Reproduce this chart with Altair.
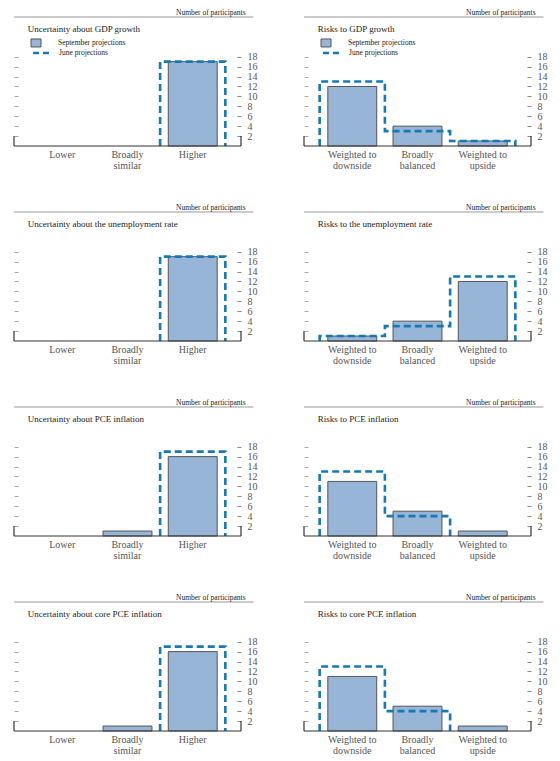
import altair as alt
import pandas as pd

# ---------------- data ----------------
unc_cats = ["Lower", "Broadly\nsimilar", "Higher"]
risk_cats = ["Weighted to\ndownside", "Broadly\nbalanced", "Weighted to\nupside"]

titles = [
    "Uncertainty about GDP growth",
    "Risks to GDP growth",
    "Uncertainty about the unemployment rate",
    "Risks to the unemployment rate",
    "Uncertainty about PCE inflation",
    "Risks to PCE inflation",
    "Uncertainty about core PCE inflation",
    "Risks to core PCE inflation",
]

gdp_unc_sep = [0, 0, 17]
gdp_unc_jun = [0, 0, 17]
gdp_risk_sep = [12, 4, 1]
gdp_risk_jun = [13, 3, 1]
unemp_unc_sep = [0, 0, 17]
unemp_unc_jun = [0, 0, 17]
unemp_risk_sep = [1, 4, 12]
unemp_risk_jun = [1, 3, 13]
pce_unc_sep = [0, 1, 16]
pce_unc_jun = [0, 0, 17]
pce_risk_sep = [11, 5, 1]
pce_risk_jun = [13, 4, 0]
core_unc_sep = [0, 1, 16]
core_unc_jun = [0, 0, 17]
core_risk_sep = [11, 5, 1]
core_risk_jun = [13, 4, 0]

y_ticks = [2, 4, 6, 8, 10, 12, 14, 16, 18]
legend_labels = ["September projections", "June projections"]
y_unit_label = "Number of participants"

# ---------------- style ----------------
SERIF = "Liberation Serif"
BAR_FILL = "#97b5d6"
BAR_STROKE = "#555555"
JUNE_COLOR = "#1479b5"
XMIN, XMAX = -0.24, 3.24
YMAX = 26
W, H = 227, 129

xs = alt.Scale(domain=[XMIN, XMAX], nice=False, zero=False)
ys = alt.Scale(domain=[0, YMAX], nice=False, zero=False)


def step_segments(vals):
    path = [(0, 0)]
    for i, v in enumerate(vals):
        path.append((i, v))
        path.append((i + 1, v))
    path.append((len(vals), 0))
    rows = []
    seg = 0
    order = 0
    prev_kept = False
    for (x0, y0), (x1, y1) in zip(path[:-1], path[1:]):
        skip = (y0 == 0 and y1 == 0) or (x0 == x1 and y0 == y1)
        if skip:
            prev_kept = False
            continue
        if not prev_kept:
            seg += 1
            rows.append({"x": x0, "y": y0, "seg": seg, "o": order})
            order += 1
        rows.append({"x": x1, "y": y1, "seg": seg, "o": order})
        order += 1
        prev_kept = True
    return pd.DataFrame(rows)


def panel(title, cats, sep, jun, legend):
    bars_df = pd.DataFrame({"i": list(range(len(sep))), "v": sep})
    bars = (
        alt.Chart(bars_df)
        .transform_filter("datum.v > 0")
        .transform_calculate(x0="datum.i + 0.125", x1="datum.i + 0.875")
        .mark_rect(fill=BAR_FILL, stroke=BAR_STROKE, strokeWidth=1)
        .encode(
            x=alt.X("x0:Q", scale=xs, axis=None),
            x2="x1:Q",
            y=alt.Y(
                "v:Q",
                scale=ys,
                axis=alt.Axis(
                    orient="left", values=y_ticks, labels=False, domain=False,
                    grid=False, tickSize=4, offset=-4, tickColor="#aaaaaa",
                    title=None, minExtent=0,
                ),
            ),
            y2=alt.datum(0),
        )
    )

    line = (
        alt.Chart(step_segments(jun))
        .mark_line(color=JUNE_COLOR, strokeWidth=2.6, strokeDash=[7, 4])
        .encode(
            x=alt.X("x:Q", scale=xs, axis=None),
            y=alt.Y(
                "y:Q",
                scale=ys,
                axis=alt.Axis(
                    orient="right", values=y_ticks, domain=False, grid=False,
                    tickSize=4, offset=-4, tickColor="#888888",
                    labelFont=SERIF, labelFontSize=10, labelColor="#555555",
                    labelPadding=6, labelOverlap=False, labelBound=False,
                    labelFlush=False, title=None, minExtent=0,
                ),
            ),
            detail="seg:N",
            order="o:Q",
        )
    )

    frame_df = pd.DataFrame(
        {"x": [XMIN, XMIN, XMAX], "x2": [XMAX, XMIN, XMAX],
         "y": [0, 0, 0], "y2": [0, 2, 2]}
    )
    frame = (
        alt.Chart(frame_df)
        .mark_rule(color="#333333", strokeWidth=1.2)
        .encode(
            x=alt.X("x:Q", scale=xs, axis=None), x2="x2:Q",
            y=alt.Y("y:Q", scale=ys, axis=None), y2="y2:Q",
        )
    )

    top_rule = (
        alt.Chart(pd.DataFrame({"x": [XMIN], "x2": [3.43], "y": [YMAX]}))
        .mark_rule(color="#999999", strokeWidth=1)
        .encode(
            x=alt.X("x:Q", scale=xs, axis=None), x2="x2:Q",
            y=alt.Y("y:Q", scale=ys, axis=None),
        )
    )

    unit = (
        alt.Chart(pd.DataFrame({"x": [3.31], "y": [26.45], "t": [y_unit_label]}))
        .mark_text(font=SERIF, fontSize=7.5, align="right", baseline="alphabetic", color="#222222")
        .encode(x=alt.X("x:Q", scale=xs, axis=None), y=alt.Y("y:Q", scale=ys, axis=None), text="t:N")
    )

    ttl = (
        alt.Chart(pd.DataFrame({"x": [-0.03], "y": [23.0], "t": [title]}))
        .mark_text(font=SERIF, fontSize=9, align="left", baseline="alphabetic", color="#222222")
        .encode(x=alt.X("x:Q", scale=xs, axis=None), y=alt.Y("y:Q", scale=ys, axis=None), text="t:N")
    )

    cat_df = pd.DataFrame({"i": list(range(len(cats))), "t": cats})
    catlab = (
        alt.Chart(cat_df)
        .transform_calculate(xc="datum.i + 0.5", yc="0")
        .mark_text(font=SERIF, fontSize=10, align="center", baseline="top",
                   dy=4, lineBreak="\n", lineHeight=10.5, color="#555555")
        .encode(x=alt.X("xc:Q", scale=xs, axis=None), y=alt.Y("yc:Q", scale=ys, axis=None), text="t:N")
    )

    layers = [bars, line, frame, top_rule, unit, ttl, catlab]

    if legend:
        lg_box = (
            alt.Chart(pd.DataFrame({"x": [0.021], "x2": [0.174], "y": [19.96], "y2": [21.57]}))
            .mark_rect(fill=BAR_FILL, stroke=BAR_STROKE, strokeWidth=1)
            .encode(x=alt.X("x:Q", scale=xs, axis=None), x2="x2:Q",
                    y=alt.Y("y:Q", scale=ys, axis=None), y2="y2:Q")
        )
        lg_line = (
            alt.Chart(pd.DataFrame({"x": [0.051], "x2": [0.312], "y": [18.75]}))
            .mark_rule(color=JUNE_COLOR, strokeWidth=2.6, strokeDash=[6, 4])
            .encode(x=alt.X("x:Q", scale=xs, axis=None), x2="x2:Q",
                    y=alt.Y("y:Q", scale=ys, axis=None))
        )
        lg_text = (
            alt.Chart(pd.DataFrame({"x": [0.435, 0.45], "y": [20.8, 18.75], "t": legend_labels}))
            .mark_text(font=SERIF, fontSize=7.5, align="left", baseline="middle", color="#222222")
            .encode(x=alt.X("x:Q", scale=xs, axis=None), y=alt.Y("y:Q", scale=ys, axis=None), text="t:N")
        )
        layers += [lg_box, lg_line, lg_text]

    return (
        alt.layer(*layers)
        .resolve_axis(y="independent")
        .properties(width=W, height=H)
    )


panels = [
    panel(titles[0], unc_cats, gdp_unc_sep, gdp_unc_jun, True),
    panel(titles[1], risk_cats, gdp_risk_sep, gdp_risk_jun, True),
    panel(titles[2], unc_cats, unemp_unc_sep, unemp_unc_jun, False),
    panel(titles[3], risk_cats, unemp_risk_sep, unemp_risk_jun, False),
    panel(titles[4], unc_cats, pce_unc_sep, pce_unc_jun, False),
    panel(titles[5], risk_cats, pce_risk_sep, pce_risk_jun, False),
    panel(titles[6], unc_cats, core_unc_sep, core_unc_jun, False),
    panel(titles[7], risk_cats, core_risk_sep, core_risk_jun, False),
]

chart = (
    alt.ConcatChart(
        concat=panels,
        columns=2,
        spacing={"row": 66, "column": 63},
        bounds="flush",
        padding={"left": 5, "top": 0, "right": 5, "bottom": 5},
    )
    .configure_view(stroke=None)
)

chart.save("out.html", embed_options={"renderer": "svg", "actions": False})
